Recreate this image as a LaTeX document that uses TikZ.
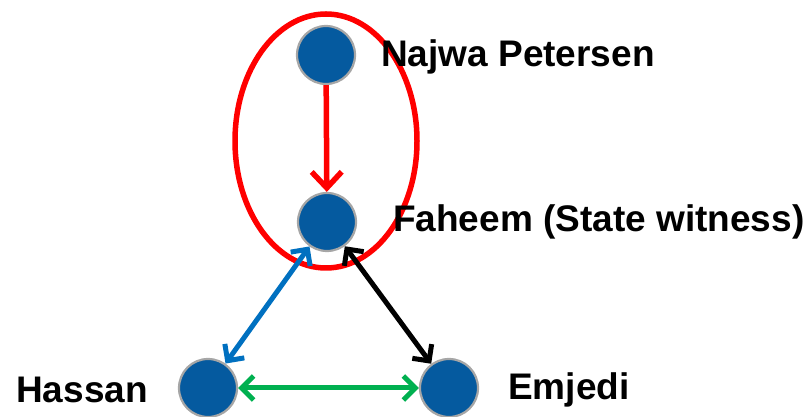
\documentclass[tikz,border=0pt]{standalone}
\usepackage{fontspec}
\setmainfont{Liberation Sans}
\usetikzlibrary{arrows.meta}
\definecolor{nodeblue}{HTML}{055A9F}
\definecolor{rimgray}{HTML}{A6A6A6}
\definecolor{linkblue}{HTML}{0070C0}
\definecolor{linkgreen}{HTML}{00B050}
\begin{document}
\begin{tikzpicture}[x=1pt,y=1pt,
  person/.style={circle,fill=nodeblue,draw=rimgray,line width=2.2pt,minimum size=58pt,inner sep=0pt},
  lbl/.style={anchor=base west,inner sep=0pt,font=\fontsize{37}{44}\selectfont\bfseries},
  link/.style={line width=5pt,{Straight Barb[length=12pt,width=24pt]}-{Straight Barb[length=12pt,width=24pt]}},
  redlink/.style={line width=5.5pt,red,-{Straight Barb[length=16pt,width=30pt]}}
]
\useasboundingbox (0,0) rectangle (812,417);
\node[person] (naj) at (326,362) {};
\node[person] (fah) at (327,195) {};
\node[person] (has) at (208,29) {};
\node[person] (emj) at (449,29) {};
\draw[red,line width=5.5pt] (326,276) ellipse [x radius=91, y radius=127];
\node[lbl] (tnaj) at (381,350) {Najwa Petersen};
\node[lbl] (tfah) at (393,185) {Faheem (State witness)};
\node[lbl] (thas) at (16,14) {Hassan};
\node[lbl] (temj) at (508,17) {Emjedi};
\draw[redlink] (naj) -- (fah);
\draw[link,linkblue] (fah) -- (has);
\draw[link,black] (fah) -- (emj);
\draw[link,linkgreen] (has) -- (emj);
\end{tikzpicture}
\end{document}
